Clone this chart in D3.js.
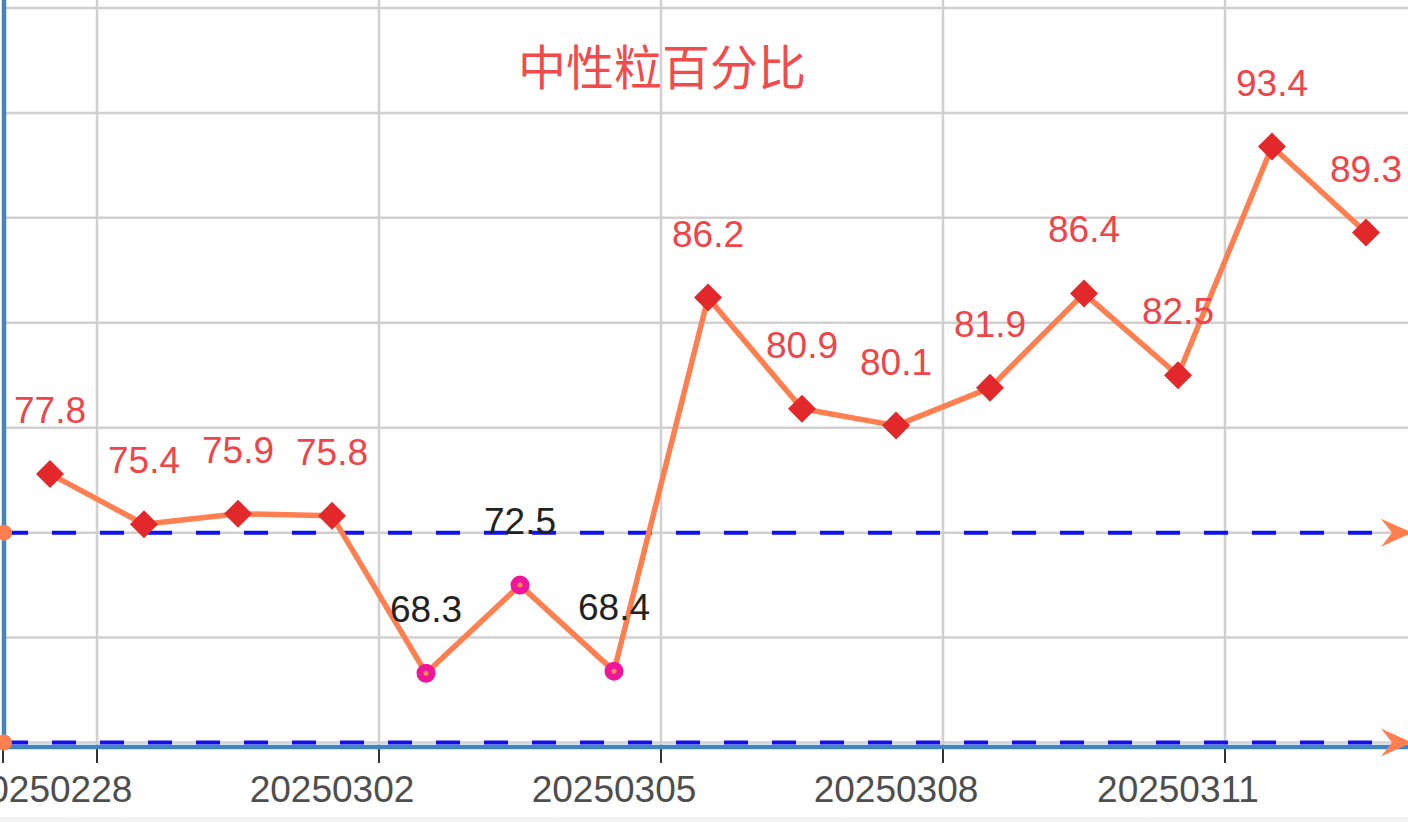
<!DOCTYPE html>
<html>
<head>
<meta charset="utf-8">
<script src="https://cdn.jsdelivr.net/npm/d3@7"></script>
<style>
  body { margin: 0; background: #fff; overflow: hidden; }
  .strip { position: absolute; left: 0; top: 817px; width: 1408px; height: 5px; background: #f2f2f2; }
</style>
</head>
<body>
<div class="strip"></div>
<script>
var title = "中性粒百分比"
var dates = ["20250228","20250301","20250301","20250302","20250303","20250304","20250305",
             "20250306","20250307","20250308","20250309","20250310","20250311","20250312","20250313"]
var values = [77.8, 75.4, 75.9, 75.8, 68.3, 72.5, 68.4, 86.2, 80.9, 80.1, 81.9, 86.4, 82.5, 93.4, 89.3]
var refRange = [65, 75]
var yTicks = [65, 70, 75, 80, 85, 90, 95, 100]
var labelIndex = [0, 3, 6, 9, 12]

var screen = {width: 1408, height: 817}
var axisY = 747
var axisX = 4

var xScale = d3.scaleBand()
    .domain(d3.range(values.length))
    .range([3, 3 + values.length * 94])

var yScale = d3.scaleLinear()
    .domain([65, 100])
    .range([742.5, 8])

var cx = function(i) { return xScale(i) + xScale.bandwidth() / 2 }
var inRange = function(v) { return v >= refRange[0] && v <= refRange[1] }

var svg = d3.select("body")
    .append("svg")
    .attr("width", screen.width)
    .attr("height", screen.height)
    .style("position", "absolute")
    .style("left", 0)
    .style("top", 0)

// grid
svg.append("g")
    .selectAll("line")
    .data(yTicks)
    .enter()
    .append("line")
    .attr("x1", axisX)
    .attr("x2", screen.width)
    .attr("y1", function(d) { return yScale(d) })
    .attr("y2", function(d) { return yScale(d) })
    .attr("stroke", "#d0d0d0")
    .attr("stroke-width", 2.5)

var tickXs = [xScale(0)].concat(labelIndex.map(function(i) { return xScale(i) + xScale.bandwidth() }))

svg.append("g")
    .selectAll("line")
    .data(tickXs.slice(1))
    .enter()
    .append("line")
    .attr("x1", function(d) { return d })
    .attr("x2", function(d) { return d })
    .attr("y1", 0)
    .attr("y2", axisY)
    .attr("stroke", "#d0d0d0")
    .attr("stroke-width", 2.5)

// axes
var xAxis = d3.axisBottom(xScale)
    .tickValues(labelIndex)
    .tickFormat(function(i) { return dates[i] })
    .tickSize(0)
    .tickPadding(29)

var gx = svg.append("g")
    .attr("transform", "translate(0," + axisY + ")")
    .call(xAxis)
gx.select(".domain").remove()
gx.selectAll("text")
    .attr("fill", "#4e4e4e")
    .style("font-family", "'Liberation Sans', Arial, sans-serif")
    .style("font-size", "37px")

svg.append("g")
    .selectAll("line")
    .data(tickXs)
    .enter()
    .append("line")
    .attr("x1", function(d) { return d })
    .attr("x2", function(d) { return d })
    .attr("y1", axisY)
    .attr("y2", axisY + 16)
    .attr("stroke", "#333")
    .attr("stroke-width", 2)

svg.append("line")
    .attr("x1", 0).attr("x2", screen.width)
    .attr("y1", axisY).attr("y2", axisY)
    .attr("stroke", "#4386bf")
    .attr("stroke-width", 4.5)

svg.append("line")
    .attr("x1", axisX).attr("x2", axisX)
    .attr("y1", 0).attr("y2", axisY + 2)
    .attr("stroke", "#4386bf")
    .attr("stroke-width", 4.5)

// reference lines
var refs = svg.append("g")
    .selectAll("g")
    .data(refRange)
    .enter()
    .append("g")

refs.append("line")
    .attr("x1", axisX)
    .attr("x2", 1390)
    .attr("y1", function(d) { return yScale(d) })
    .attr("y2", function(d) { return yScale(d) })
    .attr("stroke", "#1010f0")
    .attr("stroke-width", 4)
    .attr("stroke-dasharray", "24,24")

refs.append("circle")
    .attr("cx", axisX)
    .attr("cy", function(d) { return yScale(d) })
    .attr("r", 8)
    .attr("fill", "#ff7f50")

refs.append("path")
    .attr("d", function(d) {
        var y = yScale(d)
        return "M1412," + y + " L1381," + (y - 14) + " L1392," + y + " L1381," + (y + 14) + " Z"
    })
    .attr("fill", "#ff7f50")

// line
var line = d3.line()
    .x(function(d, i) { return cx(i) })
    .y(function(d) { return yScale(d) })

svg.append("path")
    .datum(values)
    .attr("d", line)
    .attr("fill", "none")
    .attr("stroke", "#ff7f50")
    .attr("stroke-width", 5.5)
    .attr("stroke-linejoin", "round")

var pts = svg.append("g")
    .selectAll("g")
    .data(values)
    .enter()
    .append("g")
    .attr("transform", function(d, i) { return "translate(" + cx(i) + "," + yScale(d) + ")" })

pts.filter(function(d) { return !inRange(d) })
    .append("path")
    .attr("d", "M0,-14 L14,0 L0,14 L-14,0 Z")
    .attr("fill", "#e3282b")

pts.filter(function(d) { return inRange(d) })
    .append("circle")
    .attr("r", 6)
    .attr("fill", "#ff9050")
    .attr("stroke", "#f0169a")
    .attr("stroke-width", 7)

pts.append("text")
    .attr("y", -51)
    .attr("text-anchor", "middle")
    .attr("fill", function(d) { return inRange(d) ? "#222" : "#ef4449" })
    .style("font-family", "'Liberation Sans', Arial, sans-serif")
    .style("font-size", "37px")
    .text(function(d) { return d.toFixed(1) })

svg.append("text")
    .attr("x", 662)
    .attr("y", 85)
    .attr("text-anchor", "middle")
    .attr("fill", "#f24b4b")
    .style("font-family", "'Noto Sans CJK SC', sans-serif")
    .style("font-size", "48px")
    .text(title)
</script>
</body>
</html>
